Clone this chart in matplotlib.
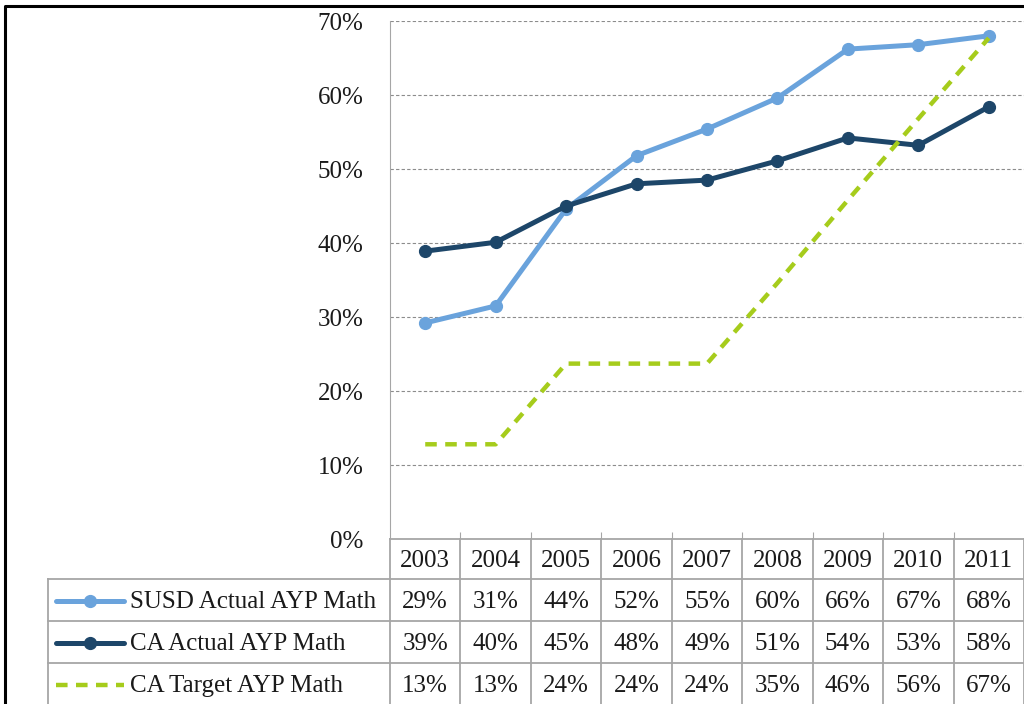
import matplotlib
matplotlib.use("Agg")
import matplotlib.pyplot as plt
from matplotlib.lines import Line2D

# data
years = ["2003", "2004", "2005", "2006", "2007", "2008", "2009", "2010", "2011"]
susd = [29.2, 31.5, 44.6, 51.8, 55.4, 59.6, 66.2, 66.8, 68.0]
ca_actual = [38.9, 40.1, 45.0, 48.0, 48.5, 51.1, 54.2, 53.2, 58.4]
ca_target = [12.8, 12.8, 23.7, 23.7, 23.7, 34.6, 45.8, 56.8, 67.7]
susd_lbl = ["29%", "31%", "44%", "52%", "55%", "60%", "66%", "67%", "68%"]
ca_actual_lbl = ["39%", "40%", "45%", "48%", "49%", "51%", "54%", "53%", "58%"]
ca_target_lbl = ["13%", "13%", "24%", "24%", "24%", "35%", "46%", "56%", "67%"]
names = ["SUSD Actual AYP Math", "CA Actual AYP Math", "CA Target AYP Math"]
yticks = [0, 10, 20, 30, 40, 50, 60, 70]

c_susd = "#6aa3dc"
c_ca = "#1d4669"
c_tgt = "#a6cc1c"
c_grid = "#a6a6a6"
c_txt = "#1a1a1a"
font = "Liberation Serif"
fs = 18
lw_main = 3.6
dash = (0, (2.6, 1.9))

W, H = 1024, 704
fig = plt.figure(figsize=(W / 100, H / 100), dpi=100)

# plot area in pixel layout
px0, px1, py0, py1 = 390, 1024, 21, 539
ax = fig.add_axes([px0 / W, 1 - py1 / H, (px1 - px0) / W, (py1 - py0) / H])
x = list(range(len(years)))
ax.plot(x, susd, color=c_susd, lw=lw_main, marker="o", ms=8.5, solid_capstyle="round")
ax.plot(x, ca_actual, color=c_ca, lw=lw_main, marker="o", ms=8.5, solid_capstyle="round")
ax.plot(x, ca_target, color=c_tgt, lw=3.2, ls=dash)
ax.set_xlim(-0.5, len(years) - 0.5)
ax.set_ylim(0, 70)
ax.set_yticks(yticks)
ax.set_yticklabels([f"{v}%" for v in yticks], fontsize=fs, family=font, color=c_txt)
ax.tick_params(axis="y", length=0, pad=19)
ax.set_xticks([i + 0.5 for i in x[:-1]])
ax.set_xticklabels([])
ax.tick_params(axis="x", direction="in", length=5, color=c_grid)
for v in yticks[1:]:
    ax.axhline(v, color="#8c8c8c", lw=0.8, ls=(0, (3, 2)), zorder=0)
for s in ["top", "right", "bottom"]:
    ax.spines[s].set_visible(False)
ax.spines["left"].set_color(c_grid)

# overlay in pixel coords for the data table and frame
ov = fig.add_axes([0, 0, 1, 1])
ov.set_xlim(0, W)
ov.set_ylim(H, 0)
ov.axis("off")

colw = (px1 - px0) / len(years)
row_top = [539, 579, 621, 663]
row_bot = [579, 621, 663, 705]
tx0 = 48
lw_t = 1.3

# header row
ov.plot([px0, px1], [row_top[0], row_top[0]], color=c_grid, lw=lw_t)
for i in range(len(years) + 1):
    xv = px0 + i * colw
    ov.plot([xv, xv], [row_top[0], H], color=c_grid, lw=lw_t)
for i, y in enumerate(years):
    ov.text(px0 + (i + 0.5) * colw, (row_top[0] + row_bot[0]) / 2 + 2, y,
            ha="center", va="center", fontsize=fs, family=font, color=c_txt)
# body rows
for r in range(1, 4):
    ov.plot([tx0, px1], [row_top[r], row_top[r]], color=c_grid, lw=lw_t)
ov.plot([tx0, tx0], [row_top[1], H], color=c_grid, lw=lw_t)

rows = [(susd_lbl, c_susd, "-", "o"), (ca_actual_lbl, c_ca, "-", "o"),
        (ca_target_lbl, c_tgt, dash, None)]
for r, (lbls, col, ls, mk) in enumerate(rows, start=1):
    yc = (row_top[r] + row_bot[r]) / 2 + 2
    ov.add_line(Line2D([56, 124], [yc - 1, yc - 1], color=col,
                       lw=lw_main if mk else 3.2, ls=ls, solid_capstyle="round"))
    if mk:
        ov.plot([90], [yc - 1], marker=mk, ms=8.5, color=col)
    ov.text(130, yc, names[r - 1], ha="left", va="center", fontsize=fs,
            family=font, color=c_txt)
    for i, t in enumerate(lbls):
        ov.text(px0 + (i + 0.5) * colw, yc, t, ha="center", va="center",
                fontsize=fs, family=font, color=c_txt)

# outer chart frame
ov.plot([5, 5, W], [H, 6, 6], color="black", lw=2.2)

fig.savefig("out.png", dpi=100)
